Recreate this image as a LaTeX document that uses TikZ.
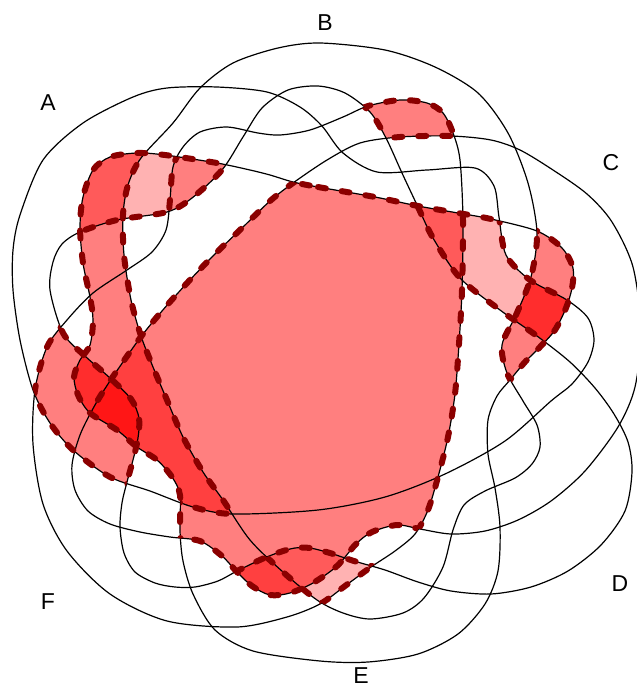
\documentclass[tikz,border=0pt]{standalone}
\usepackage{fontspec}
\setmainfont{Liberation Sans}
\usepackage{tikz}

\definecolor{zoneA}{RGB}{255,178,178}
\definecolor{zoneB}{RGB}{255,127,127}
\definecolor{zoneC}{RGB}{255,90,90}
\definecolor{zoneD}{RGB}{255,64,64}
\definecolor{zoneE}{RGB}{255,45,45}
\definecolor{zoneF}{RGB}{255,22,22}
\definecolor{edgered}{RGB}{139,0,0}

% the six sets, traced clockwise
\newcommand{\curveA}{plot[smooth cycle] coordinates {(13,250) (20,215) (43,160) (83,123) (133,97) (167,88) (217,87) (267,92) (300,107) (322,126) (343,153) (377,172) (427,170) (475,168) (494,186) (499,217) (506,255) (530,280) (567,300) (588,318) (594,340) (588,362) (572,384) (551,401) (505,441) (445,474) (385,497) (318,510) (233,514) (193,507) (150,491) (110,477) (73,450) (50,423) (33,390) (20,340) (13,290)}}
\newcommand{\curveB}{plot[smooth cycle] coordinates {(320,43) (385,50) (435,67) (478,93) (508,133) (528,183) (537,233) (531,277) (516,315) (502,345) (507,373) (523,401) (537,425) (540,447) (532,464) (515,478) (485,491) (464,505) (453,530) (443,567) (424,598) (403,613) (370,619) (343,613) (317,600) (283,572) (250,540) (223,500) (203,472) (183,437) (167,400) (153,367) (141,336) (131,300) (124,255) (123,215) (128,185) (141,158) (173,123) (200,88) (233,63) (278,48)}}
\newcommand{\curveC}{plot[smooth cycle] coordinates {(293,183) (327,160) (360,143) (400,137) (451,136) (491,140) (520,150) (553,170) (587,194) (612,222) (633,267) (641,330) (635,387) (618,427) (585,471) (551,501) (518,520) (485,531) (451,534) (420,529) (397,525) (372,532) (356,544) (337,566) (313,583) (290,593) (270,595) (252,586) (237,572) (222,556) (200,541) (170,537) (140,532) (110,524) (88,511) (75,490) (72,465) (80,435) (95,405) (112,378) (140,338) (162,311) (188,282) (214,255) (242,228) (270,201)}}
\newcommand{\curveD}{plot[smooth cycle] coordinates {(50,290) (53,262) (62,244) (80,232) (117,220) (167,212) (192,198) (222,170) (243,137) (262,108) (288,90) (318,86) (345,93) (370,112) (386,138) (402,173) (418,207) (433,238) (460,278) (500,310) (537,336) (570,362) (595,388) (614,414) (628,442) (632,472) (625,511) (601,545) (568,571) (531,587) (491,594) (451,591) (418,582) (385,570) (354,561) (330,553) (310,548) (295,548) (280,552) (262,559) (237,571) (218,581) (195,587) (175,587) (155,583) (135,572) (124,553) (120,527) (122,503) (127,482) (133,460) (138,438) (139,418) (131,399) (110,378) (85,356) (63,333)}}
\newcommand{\curveE}{plot[smooth cycle] coordinates {(293,182) (318,187) (375,197) (418,206) (458,213) (491,219) (537,231) (562,248) (573,268) (572,288) (566,308) (555,330) (540,347) (525,362) (510,380) (497,396) (488,420) (488,454) (495,488) (500,527) (498,571) (485,604) (458,634) (418,654) (368,662) (320,661) (253,651) (215,630) (193,594) (183,561) (180,531) (180,495) (172,477) (157,460) (137,447) (117,430) (90,413) (78,395) (74,377) (80,360) (90,345) (93,320) (90,297) (83,263) (80,227) (83,197) (93,170) (110,157) (137,153) (165,155) (217,163) (250,170) (270,175)}}
\newcommand{\curveF}{plot[smooth cycle] coordinates {(173,167) (183,147) (200,132) (227,127) (258,133) (280,135) (310,130) (343,117) (368,106) (400,100) (427,103) (443,113) (453,133) (460,160) (463,220) (462,290) (459,344) (455,394) (448,437) (438,477) (428,510) (415,534) (395,551) (371,567) (345,586) (320,604) (287,617) (237,627) (167,621) (110,594) (67,551) (43,504) (33,444) (35,390) (47,347) (67,320) (93,293) (127,270) (152,252) (166,230) (170,200)}}

\newcommand{\outbox}{(-20,-20) -- (-20,710) -- (660,710) -- (660,-20) -- cycle}
% 0 = outside the set, 1 = inside, 2 = either
\newcommand{\side}[2]{\ifcase#1\relax\clip \outbox #2;\or\clip #2;\fi}
\newcommand{\zonecell}[7]{\begin{scope}[even odd rule]\side{#2}\curveA\side{#3}\curveB\side{#4}\curveC
  \side{#5}\curveD\side{#6}\curveE\side{#7}\curveF\fill[fill=#1] \outbox;\end{scope}}
\newcommand{\zoneedge}[7]{\begin{scope}[even odd rule]\side{#2}\curveA\side{#3}\curveB\side{#4}\curveC
  \side{#5}\curveD\side{#6}\curveE\side{#7}\curveF\draw[zoneline] #1;\end{scope}}

\begin{document}
\begin{tikzpicture}[x=1pt,y=-1pt,
  setline/.style={draw=black,line width=1.2pt},
  zoneline/.style={draw=edgered,line width=6pt,line cap=round,dash pattern=on 8pt off 16pt},
  setlabel/.style={font=\fontsize{23}{23}\selectfont,inner sep=0pt}]
  \useasboundingbox (0,0) rectangle (637,689);

  % shaded zones
  \foreach \col/\pa/\pb/\pc/\pd/\pe/\pf in {zoneB/1/1/1/1/1/1, zoneB/0/1/1/1/1/1, zoneB/0/0/1/1/1/1,
      zoneD/1/0/1/1/1/1, zoneF/1/0/1/0/1/1, zoneE/1/0/0/0/1/1, zoneB/1/0/0/1/1/1, zoneB/1/0/0/1/1/0,
      zoneC/1/0/0/0/1/0, zoneA/1/1/0/0/1/0, zoneB/1/1/0/0/1/1, zoneB/0/1/0/0/0/1, zoneC/1/1/1/0/1/1,
      zoneA/1/1/1/0/1/0, zoneB/0/0/1/0/1/0, zoneE/1/0/1/0/1/0, zoneB/1/0/1/1/1/0, zoneB/1/0/0/0/0/1,
      zoneB/1/0/1/0/0/1, zoneD/0/0/1/0/1/1, zoneC/0/1/1/0/1/1, zoneA/0/1/0/0/1/1}
    \zonecell{\col}{\pa}{\pb}{\pc}{\pd}{\pe}{\pf};

  \draw[setline] \curveA;
  \draw[setline] \curveB;
  \draw[setline] \curveC;
  \draw[setline] \curveD;
  \draw[setline] \curveE;
  \draw[setline] \curveF;

  % dashed zone borders
  \foreach \pb/\pc/\pd/\pe/\pf in {0/1/1/1/1, 0/1/0/1/1, 0/0/0/1/1, 0/0/1/1/1, 0/0/1/1/0, 0/0/0/1/0,
      1/0/0/1/0, 1/0/0/1/1, 1/0/0/0/1, 1/1/0/1/0, 0/1/0/1/0, 0/1/1/1/0, 0/0/0/0/1, 0/1/0/0/1}
    \zoneedge{\curveA}{2}{\pb}{\pc}{\pd}{\pe}{\pf};
  \foreach \pa/\pc/\pd/\pe/\pf in {1/1/1/1/1, 1/1/0/1/1, 1/0/0/1/1, 1/0/1/1/1, 1/0/1/1/0, 1/0/0/1/0,
      0/0/0/0/1, 1/1/0/1/0, 0/1/0/1/0, 1/1/1/1/0, 1/0/0/0/1, 1/1/0/0/1, 0/1/0/1/1, 0/0/0/1/1}
    \zoneedge{\curveB}{\pa}{2}{\pc}{\pd}{\pe}{\pf};
  \foreach \pa/\pb/\pd/\pe/\pf in {1/1/1/1/1, 0/1/1/1/1, 0/0/1/1/1, 1/0/1/1/1, 1/0/0/1/1, 1/0/0/1/0,
      1/1/0/1/1, 0/1/0/0/1, 0/0/0/1/0, 0/0/0/1/1, 0/1/0/1/1}
    \zoneedge{\curveC}{\pa}{\pb}{2}{\pd}{\pe}{\pf};
  \foreach \pa/\pb/\pc/\pe/\pf in {1/1/1/1/1, 0/1/1/1/1, 0/0/1/1/1, 1/0/1/1/1, 1/0/0/1/1, 1/0/0/1/0,
      1/1/0/1/0, 1/1/0/1/1, 0/1/0/0/1, 1/1/1/1/0, 0/0/1/1/0, 1/0/1/1/0, 1/0/0/0/1, 1/0/1/0/1, 0/1/0/1/1}
    \zoneedge{\curveD}{\pa}{\pb}{\pc}{2}{\pe}{\pf};
  \foreach \pa/\pb/\pc/\pd/\pf in {1/1/1/1/1, 0/1/1/1/1, 0/0/1/1/1, 1/0/1/1/1, 1/0/1/0/1, 1/0/0/0/1,
      1/0/0/1/1, 1/0/0/1/0, 1/0/0/0/0, 1/1/0/0/0, 1/1/0/0/1, 0/1/0/0/1, 1/1/1/0/1, 1/1/1/0/0,
      0/0/1/0/0, 1/0/1/0/0, 1/0/1/1/0, 0/0/1/0/1, 0/1/1/0/1}
    \zoneedge{\curveE}{\pa}{\pb}{\pc}{\pd}{2}{\pf};
  \foreach \pa/\pb/\pc/\pd/\pe in {1/1/1/1/1, 0/1/1/1/1, 0/0/1/1/1, 1/0/1/1/1, 1/0/1/0/1, 1/0/0/0/1,
      1/1/0/0/1, 0/1/0/0/0, 1/1/1/0/1, 0/0/1/0/1, 1/0/0/0/0, 1/0/1/0/0, 0/1/1/0/1, 0/1/0/0/1}
    \zoneedge{\curveF}{\pa}{\pb}{\pc}{\pd}{\pe}{2};

  \node[setlabel] (labA) at (48,103) {A};
  \node[setlabel] (labB) at (325,23) {B};
  \node[setlabel] (labC) at (611,163) {C};
  \node[setlabel] (labD) at (620,584) {D};
  \node[setlabel] (labE) at (361,676) {E};
  \node[setlabel] (labF) at (48,602) {F};
\end{tikzpicture}
\end{document}
